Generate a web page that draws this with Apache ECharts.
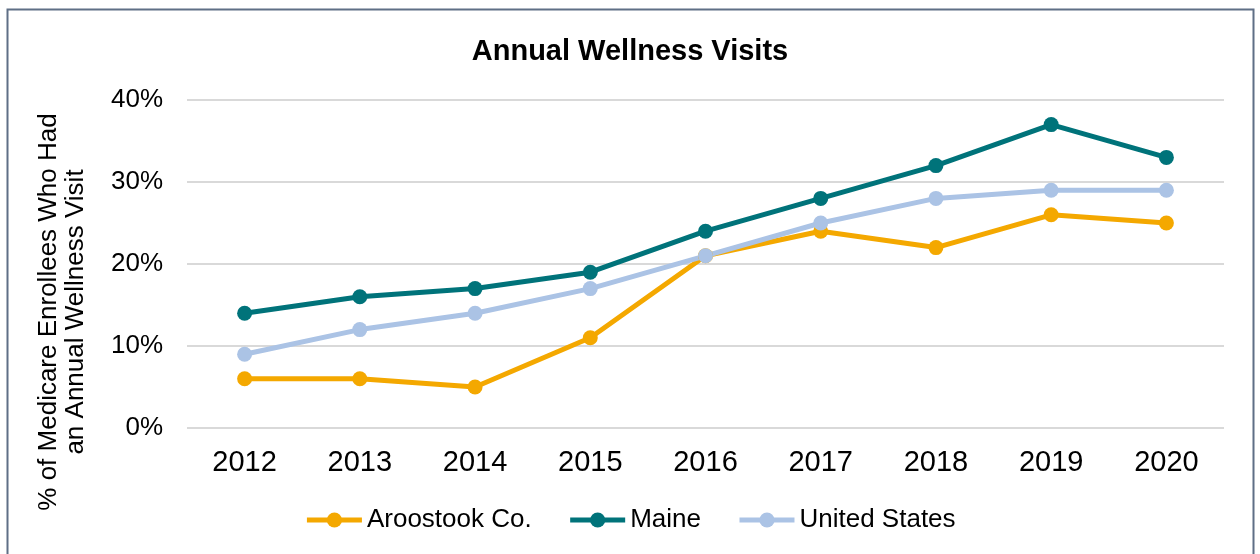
<!DOCTYPE html>
<html>
<head>
<meta charset="utf-8">
<script src="https://cdn.jsdelivr.net/npm/echarts@6/dist/echarts.min.js"></script>
<style>
  html, body { margin: 0; padding: 0; background: #fff; }
  #main { width: 1260px; height: 554px; }
</style>
</head>
<body>
<div id="main"></div>
<script>
var years = ['2012', '2013', '2014', '2015', '2016', '2017', '2018', '2019', '2020'];
var aroostook = [6, 6, 5, 11, 21, 24, 22, 26, 25];
var maine = [14, 16, 17, 19, 24, 28, 32, 37, 33];
var unitedStates = [9, 12, 14, 17, 21, 25, 28, 29, 29];

var FONT = '"Liberation Sans", Arial, sans-serif';

function lineSeries(name, data, color) {
    return {
        name: name,
        type: 'line',
        data: data,
        symbol: 'circle',
        symbolSize: 15,
        lineStyle: { width: 5, color: color },
        itemStyle: { color: color },
        emphasis: { disabled: true }
    };
}

var myChart = echarts.init(document.getElementById('main'));

var option = {
    backgroundColor: '#fff',
    animation: false,
    textStyle: { fontFamily: FONT },
    title: {
        text: 'Annual Wellness Visits',
        left: 'center',
        top: 32,
        textStyle: { fontSize: 29, fontWeight: 'bold', color: '#000', fontFamily: FONT }
    },
    legend: {
        top: 502,
        left: 'center',
        itemWidth: 55,
        itemHeight: 19,
        itemGap: 36,
        lineStyle: { width: 5 },
        textStyle: { fontSize: 26, color: '#000', fontFamily: FONT },
        data: ['Aroostook Co.', 'Maine', 'United States']
    },
    grid: { left: 187, right: 36, top: 100, bottom: 126 },
    xAxis: {
        type: 'category',
        data: years,
        boundaryGap: true,
        axisLine: { show: false },
        axisTick: { show: false },
        axisLabel: { fontSize: 29, color: '#000', margin: 20 }
    },
    yAxis: {
        type: 'value',
        min: 0,
        max: 40,
        interval: 10,
        axisLabel: { fontSize: 26, color: '#000', formatter: '{value}%', margin: 24 },
        splitLine: { lineStyle: { color: '#d9d9d9', width: 2 } }
    },
    graphic: [
        {
            type: 'rect',
            shape: { x: 7.5, y: 9.5, width: 1246, height: 600 },
            style: { fill: 'none', stroke: '#5f6f86', lineWidth: 2 },
            silent: true
        },
        {
            type: 'text',
            x: 62,
            y: 312,
            rotation: Math.PI / 2,
            style: {
                text: '% of Medicare Enrollees Who Had\nan Annual Wellness Visit',
                font: '26px ' + FONT,
                fill: '#000',
                align: 'center',
                verticalAlign: 'middle',
                lineHeight: 27
            }
        }
    ],
    series: [
        lineSeries('Aroostook Co.', aroostook, '#f4a800'),
        lineSeries('Maine', maine, '#00737a'),
        lineSeries('United States', unitedStates, '#abc3e5')
    ]
};

myChart.setOption(option);
</script>
</body>
</html>
